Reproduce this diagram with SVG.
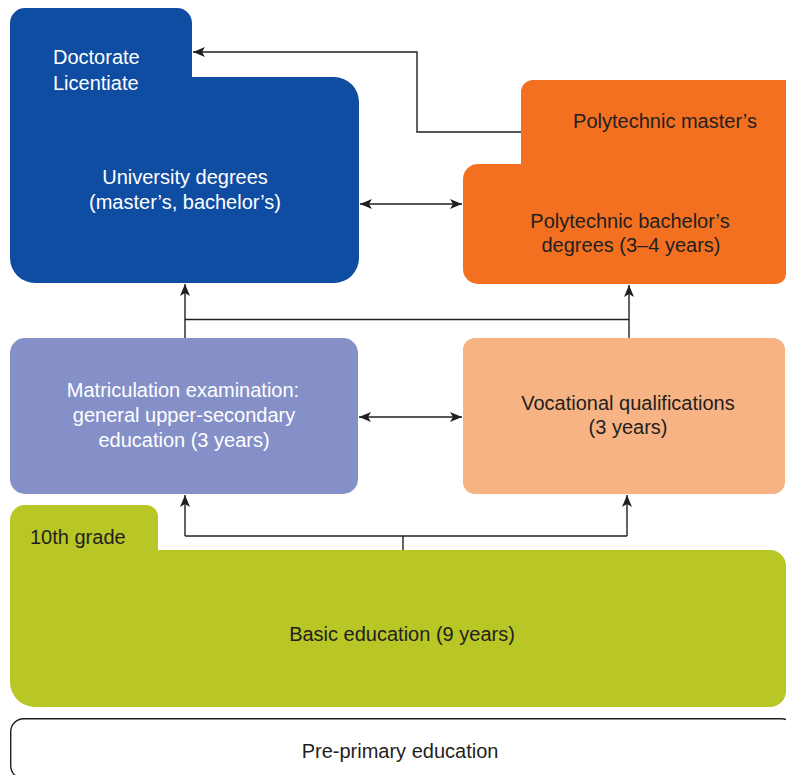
<svg xmlns="http://www.w3.org/2000/svg" width="786" height="775" viewBox="0 0 786 775">
  <style>
    .t { font-family: "Liberation Sans", Arial, sans-serif; font-size: 20px; }
    .w { fill: #ffffff; }
    .d { fill: #231f20; }
    .m { text-anchor: middle; }
    .c { fill: none; stroke: #231f20; stroke-width: 1.4; }
  </style>
  <defs>
    <marker id="ah" viewBox="0 0 12 10" refX="12" refY="5" markerWidth="12" markerHeight="10" markerUnits="userSpaceOnUse" orient="auto-start-reverse">
      <path d="M0,0 L12,5 L0,10 L3,5 Z" fill="#231f20"/>
    </marker>
  </defs>

  <rect width="786" height="775" fill="#ffffff"/>

  <g id="pre-primary">
    <rect x="10.7" y="718.7" width="784" height="60" rx="13" fill="#ffffff" stroke="#231f20" stroke-width="1.4"/>
    <text class="t d m" x="400" y="758">Pre-primary education</text>
  </g>

  <g id="basic-education">
    <path d="M10,520 A15,15 0 0 1 25,505 H146 A12,12 0 0 1 158,517 V550 H770 A16,16 0 0 1 786,566 V691 A16,16 0 0 1 770,707 H35 A25,25 0 0 1 10,682 Z" fill="#b8c626"/>
    <text class="t d" x="30" y="544">10th grade</text>
    <text class="t d m" x="402" y="641">Basic education (9 years)</text>
  </g>

  <g id="matriculation">
    <rect x="10" y="338" width="348" height="156" rx="15" fill="#8490c7"/>
    <text class="t w m" x="183" y="397">Matriculation examination:</text>
    <text class="t w m" x="184" y="422">general upper-secondary</text>
    <text class="t w m" x="184" y="447">education (3 years)</text>
  </g>

  <g id="vocational">
    <rect x="463" y="338" width="322" height="156" rx="12" fill="#f8b384"/>
    <text class="t d m" x="628" y="410">Vocational qualifications</text>
    <text class="t d m" x="628" y="434">(3 years)</text>
  </g>

  <g id="university">
    <path d="M10,23 A15,15 0 0 1 25,8 H177 A15,15 0 0 1 192,23 V77 H334 A25,25 0 0 1 359,102 V258 A25,25 0 0 1 334,283 H35 A25,25 0 0 1 10,258 Z" fill="#0f4da2"/>
    <text class="t w" x="53" y="64">Doctorate</text>
    <text class="t w" x="53" y="90">Licentiate</text>
    <text class="t w m" x="185" y="184">University degrees</text>
    <text class="t w m" x="185" y="209">(master’s, bachelor’s)</text>
  </g>

  <g id="polytechnic">
    <path d="M521,92 A12,12 0 0 1 533,80 H786 V274 A10,10 0 0 1 776,284 H478 A15,15 0 0 1 463,269 V179 A15,15 0 0 1 478,164 H521 Z" fill="#f37021"/>
    <text class="t d m" x="665" y="128">Polytechnic master’s</text>
    <text class="t d m" x="630" y="228">Polytechnic bachelor’s</text>
    <text class="t d m" x="631" y="252">degrees (3–4 years)</text>
  </g>

  <g id="connectors">
    <path class="c" d="M521,132 H417 V52 H193" marker-end="url(#ah)"/>
    <path class="c" d="M360,204 H462" marker-start="url(#ah)" marker-end="url(#ah)"/>
    <path class="c" d="M185,338 V284" marker-end="url(#ah)"/>
    <path class="c" d="M629,338 V285" marker-end="url(#ah)"/>
    <path class="c" d="M185,319.5 H629"/>
    <path class="c" d="M359,417 H462" marker-start="url(#ah)" marker-end="url(#ah)"/>
    <path class="c" d="M403,550 V536"/>
    <path class="c" d="M185,536 H627"/>
    <path class="c" d="M185,536 V495" marker-end="url(#ah)"/>
    <path class="c" d="M627,536 V495" marker-end="url(#ah)"/>
  </g>
</svg>
